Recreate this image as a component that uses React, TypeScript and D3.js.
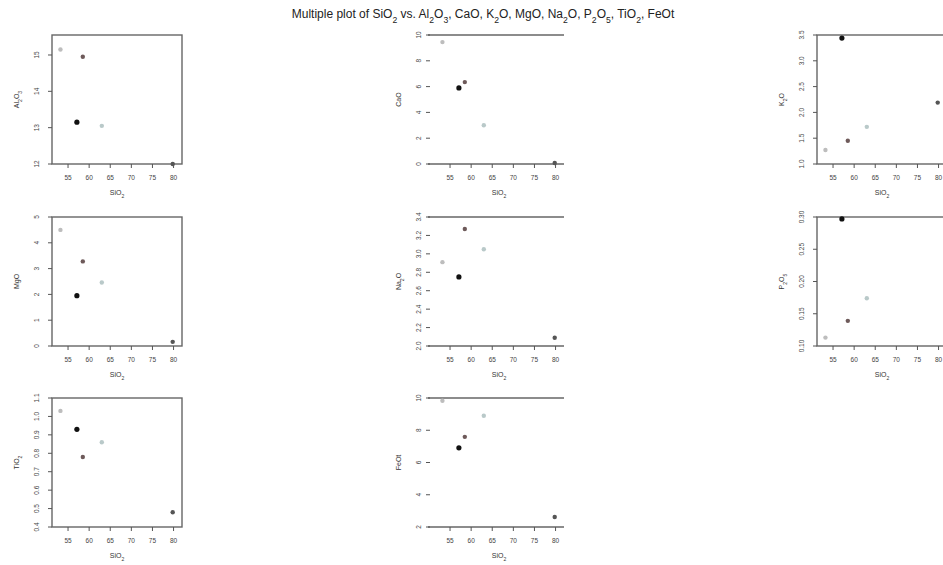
import React from 'react';
import * as d3 from 'd3';

// five samples, ordered as in the source table
const sampleColors = ['#bdbdbd', '#111111', '#6e5a5a', '#b9c9c9', '#555555'];
const sio2 = [53.2, 57.1, 58.5, 63.0, 79.8];
const al2o3 = [15.15, 13.15, 14.95, 13.05, 12.0];
const cao = [9.45, 5.9, 6.35, 3.0, 0.08];
const k2o = [1.27, 3.44, 1.45, 1.72, 2.19];
const mgo = [4.5, 1.95, 3.28, 2.46, 0.16];
const na2o = [2.91, 2.75, 3.27, 3.05, 2.09];
const p2o5 = [0.113, 0.297, 0.139, 0.174, null];
const tio2 = [1.03, 0.93, 0.78, 0.86, 0.48];
const feot = [9.83, 6.91, 7.59, 8.9, 2.62];

const xTicks = [55, 60, 65, 70, 75, 80];
const xRange = [51.2, 82.0];

const al2o3Ticks = [12, 13, 14, 15];
const caoTicks = [0, 2, 4, 6, 8, 10];
const k2oTicks = [1, 1.5, 2, 2.5, 3, 3.5];
const mgoTicks = [0, 1, 2, 3, 4, 5];
const na2oTicks = [2.0, 2.2, 2.4, 2.6, 2.8, 3.0, 3.2, 3.4];
const p2o5Ticks = [0.1, 0.15, 0.2, 0.25, 0.3];
const tio2Ticks = [0.4, 0.5, 0.6, 0.7, 0.8, 0.9, 1.0, 1.1];
const feotTicks = [2, 4, 6, 8, 10];

const title = 'Multiple plot of SiO2 vs. Al2O3, CaO, K2O, MgO, Na2O, P2O5, TiO2, FeOt';

const FONT = '"Liberation Sans", Arial, sans-serif';
const W = 130;
const H = 129;
const colLeft = [52, 434, 817];
const rowTop = [35, 217, 398];

// chemical formula with subscript digits
function Chem({ text }: { text: string }) {
  const parts = text.match(/\d+|\D+/g) || [];
  return (
    <>
      {parts.map((p, i) =>
        /\d/.test(p) ? (
          <tspan key={i} baselineShift="sub" fontSize="0.72em">{p}</tspan>
        ) : (
          <tspan key={i}>{p}</tspan>
        )
      )}
    </>
  );
}

type PanelProps = {
  col: number;
  row: number;
  label: string;
  values: (number | null)[];
  ticks: number[];
  domain?: number[];
  style: 'box' | 'lines';
};

function Panel({ col, row, label, values, ticks, domain, style }: PanelProps) {
  const x0 = colLeft[col];
  const y0 = rowTop[row];
  const x = d3.scaleLinear().domain(xRange).range([x0, x0 + W]);
  const dom = domain || (d3.extent(ticks) as number[]);
  const y = d3.scaleLinear().domain(dom).range([y0 + H, y0]);
  const step = ticks.length > 1 ? +(ticks[1] - ticks[0]).toFixed(6) : 1;
  const fmt = d3.format(`.${d3.precisionFixed(step)}f`);
  const axisColor = '#555';
  const bottom = y0 + H;
  return (
    <g>
      {style === 'box' && (
        <rect x={x0} y={y0} width={W} height={H} fill="none" stroke="#666" strokeWidth={1.4} />
      )}
      {style === 'lines' && (
        <g stroke="#666" strokeWidth={1.6}>
          <line x1={x0 - 6} x2={x0 + W} y1={y0} y2={y0} />
          <line x1={x0 - 6} x2={x0 + W} y1={bottom} y2={bottom} />
        </g>
      )}
      {/* x axis ticks */}
      {xTicks.map((t) => (
        <g key={t}>
          <line x1={x(t)} x2={x(t)} y1={bottom} y2={bottom + 4} stroke={axisColor} strokeWidth={1} />
          <text x={x(t)} y={bottom + 16} fontSize={6.5} textAnchor="middle" fill="#444" fontFamily={FONT}>
            {t}
          </text>
        </g>
      ))}
      {/* y axis ticks */}
      {ticks.map((t) => {
        const tx = style === 'lines' ? x0 - 4 : x0;
        return (
          <g key={t}>
            <line x1={tx - 4} x2={tx} y1={y(t)} y2={y(t)} stroke={axisColor} strokeWidth={1} />
            <text
              transform={`translate(${x0 - 13},${y(t)}) rotate(-90)`}
              fontSize={6.5}
              textAnchor="middle"
              fill="#444"
              fontFamily={FONT}
            >
              {fmt(t)}
            </text>
          </g>
        );
      })}
      {/* axis titles */}
      <text x={x0 + W / 2} y={bottom + 31} fontSize={7} textAnchor="middle" fill="#333" fontFamily={FONT}>
        <Chem text="SiO2" />
      </text>
      <text
        transform={`translate(${x0 - 33},${y0 + H / 2}) rotate(-90)`}
        fontSize={7}
        textAnchor="middle"
        fill="#333"
        fontFamily={FONT}
      >
        <Chem text={label} />
      </text>
      {/* points */}
      {values.map((v, i) =>
        v == null ? null : (
          <circle key={i} cx={x(sio2[i])} cy={y(v)} r={i === 1 ? 2.6 : 2.2} fill={sampleColors[i]} />
        )
      )}
    </g>
  );
}

export default function App() {
  return (
    <svg
      width={943}
      height={565}
      style={{ position: 'fixed', left: 0, top: 0, background: '#fff' }}
    >
      <rect width={943} height={565} fill="#fff" />
      <text x={483} y={18} fontSize={12} textAnchor="middle" fill="#222" fontFamily={FONT}>
        <Chem text={title} />
      </text>
      <Panel col={0} row={0} label="Al2O3" values={al2o3} ticks={al2o3Ticks} domain={[12, 15.55]} style="box" />
      <Panel col={1} row={0} label="CaO" values={cao} ticks={caoTicks} style="lines" />
      <Panel col={2} row={0} label="K2O" values={k2o} ticks={k2oTicks} style="box" />
      <Panel col={0} row={1} label="MgO" values={mgo} ticks={mgoTicks} style="box" />
      <Panel col={1} row={1} label="Na2O" values={na2o} ticks={na2oTicks} style="lines" />
      <Panel col={2} row={1} label="P2O5" values={p2o5} ticks={p2o5Ticks} style="box" />
      <Panel col={0} row={2} label="TiO2" values={tio2} ticks={tio2Ticks} style="box" />
      <Panel col={1} row={2} label="FeOt" values={feot} ticks={feotTicks} style="lines" />
    </svg>
  );
}
